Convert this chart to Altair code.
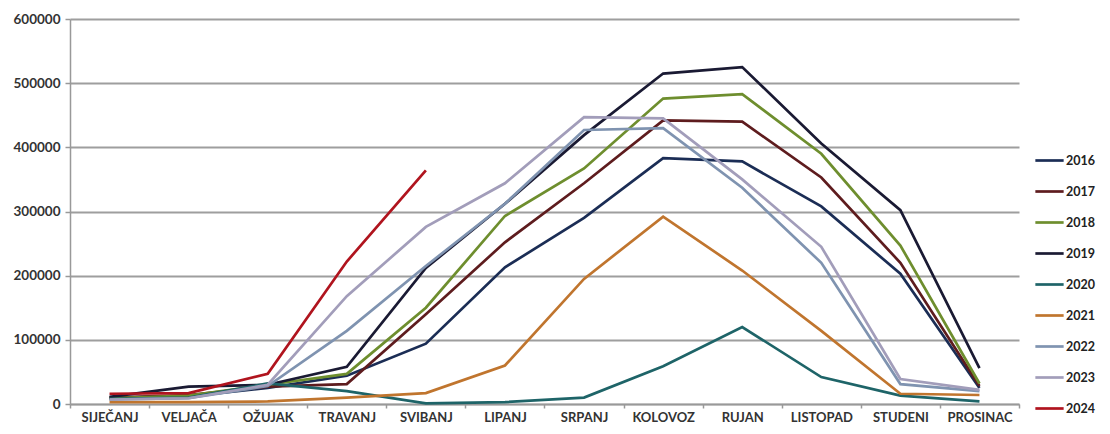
import altair as alt
import pandas as pd

months = ["SIJEČANJ", "VELJAČA", "OŽUJAK", "TRAVANJ", "SVIBANJ", "LIPANJ",
          "SRPANJ", "KOLOVOZ", "RUJAN", "LISTOPAD", "STUDENI", "PROSINAC"]

years = ["2016", "2017", "2018", "2019", "2020", "2021", "2022", "2023", "2024"]

v2016 = [10000, 12000, 25000, 44000, 94000, 213000, 290000, 383000, 378000, 308000, 203000, 25000]
v2017 = [10000, 14000, 27000, 31000, 140000, 252000, 344000, 442000, 440000, 353000, 220000, 28000]
v2018 = [9000, 13000, 30000, 47000, 150000, 293000, 367000, 476000, 483000, 390000, 247000, 32000]
v2019 = [11000, 27000, 30000, 58000, 212000, 312000, 419000, 515000, 525000, 406000, 302000, 56000]
v2020 = [8000, 10000, 32000, 20000, 1000, 3000, 10000, 59000, 120000, 42000, 13000, 4000]
v2021 = [3000, 3000, 4000, 10000, 17000, 60000, 195000, 292000, 208000, 114000, 16000, 14000]
v2022 = [7000, 9000, 28000, 114000, 215000, 312000, 427000, 430000, 337000, 220000, 31000, 20000]
v2023 = [7000, 9000, 30000, 168000, 276000, 344000, 447000, 445000, 350000, 245000, 39000, 22000]
v2024 = [16000, 17000, 47000, 222000, 364000]

colors = ["#1B2D55", "#5E1C1E", "#6E8E2E", "#1A1A33", "#1E6468",
          "#C0752E", "#7F93B0", "#A29DBA", "#B0141E"]
widths = [2.7, 2.7, 2.7, 2.7, 2.7, 2.7, 2.7, 2.7, 3.4]

series = [v2016, v2017, v2018, v2019, v2020, v2021, v2022, v2023, v2024]
rows = []
for y, vals in zip(years, series):
    for i, v in enumerate(vals):
        rows.append({"month": months[i], "year": y, "value": v, "order": i})
df = pd.DataFrame(rows)

font = "Lato"

chart = alt.Chart(df).mark_line().encode(
    x=alt.X("month:N", sort=months,
            scale=alt.Scale(type="band", paddingInner=0, paddingOuter=0),
            axis=alt.Axis(title=None, labelAngle=0, tickBand="extent",
                          labelFont=font, labelFontSize=13, labelFontWeight="bold",
                          labelColor="#333333", domainColor="#999999", domainWidth=1.5,
                          tickColor="#999999", tickSize=4, tickWidth=1.5,
                          labelPadding=3, grid=False)),
    y=alt.Y("value:Q", scale=alt.Scale(domain=[0, 600000]),
            axis=alt.Axis(title=None, values=[0, 100000, 200000, 300000, 400000, 500000, 600000],
                          format="d", labelFont=font, labelFontSize=13.5,
                          labelFontWeight="bold", labelColor="#333333",
                          domainColor="#999999", domainWidth=1.5,
                          tickColor="#999999", tickSize=5, tickWidth=1.5,
                          gridColor="#9E9E9E", gridWidth=1.8, labelPadding=5)),
    color=alt.Color("year:N", scale=alt.Scale(domain=years, range=colors),
                    legend=alt.Legend(title=None, orient="none", legendX=964, legendY=126,
                                      symbolType="stroke", symbolSize=800,
                                      symbolStrokeWidth=3.5, labelFont=font,
                                      labelFontSize=12.5, labelFontWeight="bold",
                                      labelColor="#222222", labelOffset=1,
                                      rowPadding=9)),
    strokeWidth=alt.StrokeWidth("year:N", scale=alt.Scale(domain=years, range=widths),
                                legend=None),
    order=alt.Order("order:Q"),
).properties(
    width=949, height=385,
    autosize=alt.AutoSizeParams(type="none"),
    padding={"left": 62, "top": 11, "right": 83, "bottom": 22},
).configure_view(stroke=None)

chart.save("out.html", embed_options={"renderer": "svg", "actions": False})
